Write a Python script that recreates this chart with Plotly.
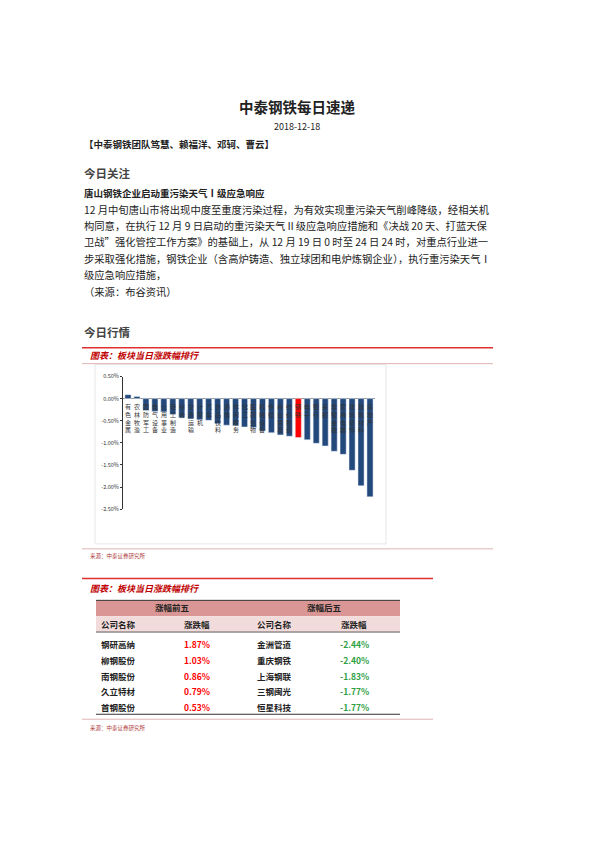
import plotly.graph_objects as go

categories = ["有色金属","农林牧渔","国防军工","电气设备","公用事业","轻工制造","综合","交通运输","计算机","汽车",
              "食品饮料","通信","休闲服务","化工","医药生物","机械设备","传媒","商业贸易","纺织服装","钢铁",
              "电子","银行","采掘","非银金融","家用电器","建筑装饰","建筑材料","房地产"]
values = [0.09,0.05,-0.27,-0.29,-0.30,-0.36,-0.43,-0.46,-0.48,-0.49,
          -0.57,-0.60,-0.61,-0.64,-0.65,-0.73,-0.77,-0.82,-0.85,-0.88,
          -0.93,-1.01,-1.07,-1.19,-1.26,-1.62,-1.97,-2.22]
y_ticks = [0.5,0.0,-0.5,-1.0,-1.5,-2.0,-2.5]
y_ticklabels = ["0.50%","0.00%","-0.50%","-1.00%","-1.50%","-2.00%","-2.50%"]

top_names = ["钢研高纳","柳钢股份","南钢股份","久立特材","首钢股份"]
top_vals = ["1.87%","1.03%","0.86%","0.79%","0.53%"]
bot_names = ["金洲管道","重庆钢铁","上海钢联","三钢闽光","恒星科技"]
bot_vals = ["-2.44%","-2.40%","-1.83%","-1.77%","-1.77%"]

W, H = 595, 842
OFF = 8  # browser body margin
FONT = "Noto Sans CJK SC"
def px(x): return (x - OFF) / W
def py(y): return 1 - (y - OFF) / H

colors = ["#FF0000" if c == "钢铁" else "#23497C" for c in categories]
fig = go.Figure(go.Bar(x=categories, y=values, marker_color=colors, width=0.68))

ann = []
def T(x, y, s, size=10, color="#222", bold=False, xanchor="left", italic=False):
    if bold: s = "<b>" + s + "</b>"
    if italic: s = "<i>" + s + "</i>"
    ann.append(dict(x=px(x), y=py(y), xref="paper", yref="paper", text=s, showarrow=False,
                    xanchor=xanchor, yanchor="middle", font=dict(size=size, color=color, family=FONT)))

T(297, 103, "中泰钢铁每日速递", 14.5, "#222", True, "center")
T(297, 124, "2018-12-18", 9, "#222", False, "center")
T(82, 141, "【中泰钢铁团队笃慧、赖福洋、邓轲、曹云】", 9.5, "#222", True)
T(82, 171, "今日关注", 11.5, "#444", True)
T(82, 191, "唐山钢铁企业启动重污染天气Ⅰ级应急响应", 9.5, "#222", True)
lines = ["12 月中旬唐山市将出现中度至重度污染过程，为有效实现重污染天气削峰降级，经相关机",
         "构同意，在执行 12 月 9 日启动的重污染天气Ⅱ级应急响应措施和《决战 20 天、打蓝天保",
         "卫战”强化管控工作方案》的基础上，从 12 月 19 日 0 时至 24 日 24 时，对重点行业进一",
         "步采取强化措施，钢铁企业（含高炉铸造、独立球团和电炉炼钢企业），执行重污染天气Ⅰ",
         "级应急响应措施，",
         "（来源：布谷资讯）"]
for i, l in enumerate(lines):
    T(82, 207 + i * 16.6, l, 10.3, "#222")
T(82, 331, "今日行情", 11.5, "#444", True)
T(88, 355, "图表：板块当日涨跌幅排行", 9, "#C00000", True, italic=True)
T(88, 557, "来源：中泰证券研究所", 5.5, "#B04040")
T(88, 590, "图表：板块当日涨跌幅排行", 9, "#C00000", True, italic=True)
T(88, 731, "来源：中泰证券研究所", 5.5, "#B04040")

T(172, 609, "涨幅前五", 8.5, "#222", True, "center")
T(324, 609, "涨幅后五", 8.5, "#222", True, "center")
for xx, s in [(118, "公司名称"), (197, "涨跌幅"), (274, "公司名称"), (354, "涨跌幅")]:
    T(xx, 626, s, 8.5, "#222", True, "center")
for i in range(5):
    yy = 646 + i * 16
    T(118, yy, top_names[i], 8.5, "#222", True, "center")
    T(197, yy, top_vals[i], 8.5, "#FF0000", True, "center")
    T(274, yy, bot_names[i], 8.5, "#222", True, "center")
    T(354, yy, bot_vals[i], 8.5, "#2EA043", True, "center")

for c in categories:
    ann.append(dict(x=c, y=-0.04, xref="x", yref="y", text="<br>".join(c), showarrow=False,
                    xanchor="center", yanchor="top", font=dict(size=6, color="#333", family=FONT)))

shapes = []
def L(x0, y0, x1, y1, color, w):
    shapes.append(dict(type="line", xref="paper", yref="paper", x0=px(x0), y0=py(y0), x1=px(x1), y1=py(y1),
                       line=dict(color=color, width=w)))
def R(x0, y0, x1, y1, fill, lc=None, lw=0):
    shapes.append(dict(type="rect", xref="paper", yref="paper", x0=px(x0), y0=py(y0), x1=px(x1), y1=py(y1),
                       fillcolor=fill, line=dict(color=lc or fill, width=lw), layer="below"))

L(82, 347, 493, 347, "#E03030", 1.5)
L(82, 363, 493, 363, "#D8A0A0", 0.8)
R(95, 364, 386, 545, "rgba(0,0,0,0)", "#E0E0E0", 0.8)
L(82, 550, 493, 550, "#D8A0A0", 0.8)
L(82, 580, 433, 580, "#E03030", 1.5)
R(96, 602, 400, 618, "#D99694")
R(96, 618, 400, 634, "#F2DCDB")
L(96, 602, 400, 602, "#333", 1)
L(96, 634, 400, 634, "#333", 0.8)
L(96, 717, 400, 717, "#333", 1)
L(82, 722, 433, 722, "#D8A0A0", 0.8)

fig.update_layout(
    width=W, height=H, margin=dict(l=0, r=0, t=0, b=0),
    paper_bgcolor="white", plot_bgcolor="white", showlegend=False,
    annotations=ann, shapes=shapes, font=dict(family=FONT),
    xaxis=dict(domain=[px(123), px(375)], showticklabels=False, showgrid=False, zeroline=False, showline=False),
    yaxis=dict(domain=[py(510), py(376)], range=[-2.5, 0.5], tickvals=y_ticks, ticktext=y_ticklabels,
               tickfont=dict(size=5.5, color="#333"), showgrid=False, zeroline=True, zerolinecolor="#999",
               zerolinewidth=1, showline=True, linecolor="#333", linewidth=1, ticks="outside", ticklen=2,
               tickcolor="#333"),
)
fig.write_html("out.html")
